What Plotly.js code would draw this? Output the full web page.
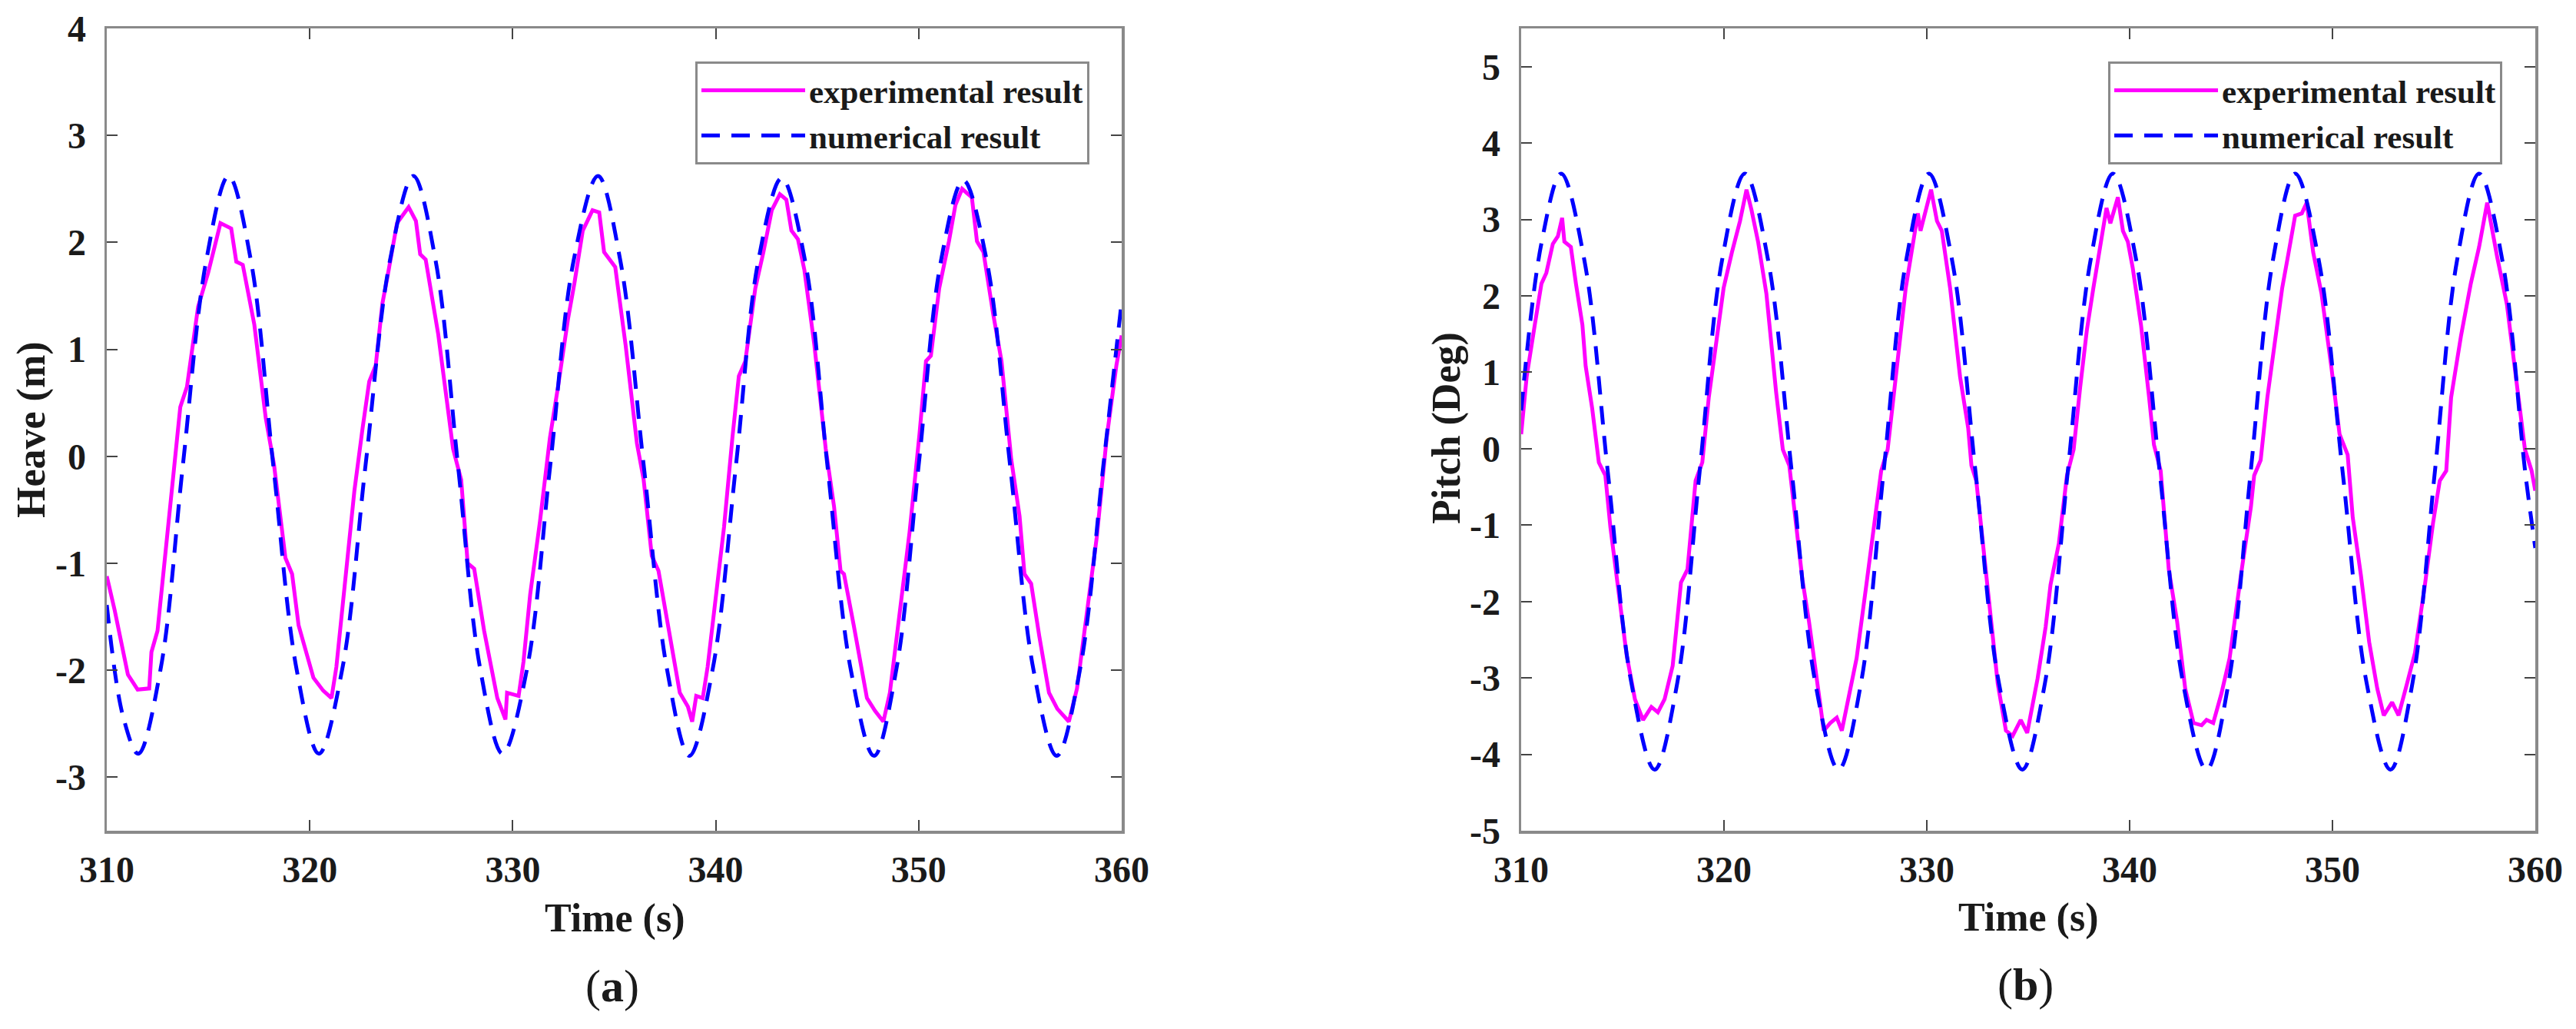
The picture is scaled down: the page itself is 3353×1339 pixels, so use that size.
<!DOCTYPE html>
<html>
<head>
<meta charset="utf-8">
<script src="https://cdn.plot.ly/plotly-3.0.1.min.js"></script>
<style>
  html, body { margin: 0; padding: 0; background: #fff; }
  #chart { width: 3353px; height: 1339px; }
</style>
</head>
<body>
<div id="chart"></div>
<script>
// Heave (m), panel (a)
const heaveExpT = [310.0, 310.39, 311.04, 311.52, 312.09, 312.2, 312.5, 313.14, 313.62, 313.95, 314.5, 315.0, 315.6, 316.13, 316.38, 316.7, 317.27, 317.83, 318.24, 318.8, 319.13, 319.45, 320.18, 320.66, 321.07, 321.31, 321.71, 322.2, 322.6, 322.93, 323.25, 323.58, 323.82, 324.3, 324.87, 325.23, 325.44, 325.71, 326.33, 327.06, 327.46, 327.78, 328.1, 328.59, 329.24, 329.64, 329.72, 330.29, 330.53, 330.86, 331.34, 331.83, 332.23, 332.72, 333.04, 333.45, 333.93, 334.26, 334.5, 335.05, 335.56, 336.12, 336.45, 336.85, 337.18, 337.66, 338.23, 338.63, 338.84, 339.04, 339.36, 339.6, 339.93, 340.41, 340.82, 341.14, 341.46, 341.95, 342.35, 342.76, 343.16, 343.48, 343.73, 344.05, 344.37, 344.86, 345.42, 345.83, 346.15, 346.32, 346.8, 347.45, 347.85, 348.26, 348.58, 349.06, 349.55, 350.04, 350.36, 350.6, 351.01, 351.49, 351.81, 352.14, 352.62, 352.87, 353.19, 353.67, 354.08, 354.56, 354.97, 355.21, 355.54, 355.94, 356.42, 356.83, 357.4, 357.8, 358.29, 358.77, 359.26, 359.74, 360.0];
const heaveExp = [-1.12, -1.44, -2.04, -2.18, -2.17, -1.83, -1.63, -0.39, 0.46, 0.65, 1.40, 1.72, 2.18, 2.13, 1.82, 1.79, 1.23, 0.36, -0.08, -0.95, -1.10, -1.58, -2.07, -2.19, -2.26, -1.97, -1.24, -0.32, 0.26, 0.70, 0.85, 1.43, 1.67, 2.18, 2.33, 2.20, 1.89, 1.84, 1.14, 0.07, -0.22, -1.00, -1.05, -1.63, -2.26, -2.46, -2.21, -2.24, -1.92, -1.29, -0.61, 0.17, 0.65, 1.28, 1.62, 2.11, 2.30, 2.28, 1.91, 1.77, 1.04, 0.12, -0.22, -0.93, -1.07, -1.58, -2.21, -2.34, -2.48, -2.24, -2.26, -1.97, -1.44, -0.66, 0.17, 0.75, 0.89, 1.57, 1.91, 2.30, 2.45, 2.40, 2.11, 2.03, 1.74, 1.04, 0.07, -0.47, -1.07, -1.10, -1.58, -2.26, -2.38, -2.48, -2.21, -1.49, -0.71, 0.21, 0.89, 0.94, 1.57, 2.01, 2.35, 2.50, 2.42, 2.01, 1.91, 1.33, 0.89, -0.03, -0.56, -1.10, -1.19, -1.68, -2.21, -2.36, -2.48, -2.17, -1.44, -0.76, 0.17, 0.85, 1.13];
const heaveNumT = [310.0, 310.8, 311.55, 312.65, 313.75, 314.9, 316.0, 317.1, 318.2, 319.35, 320.45, 321.6, 322.75, 323.95, 325.1, 326.2, 327.3, 328.4, 329.5, 330.7, 331.85, 333.0, 334.2, 335.3, 336.45, 337.6, 338.7, 339.85, 341.0, 342.1, 343.25, 344.4, 345.5, 346.65, 347.8, 348.9, 350.0, 351.1, 352.2, 353.35, 354.5, 355.65, 356.8, 357.95, 359.1, 360.0];
const heaveNum = [-1.39, -2.43, -2.78, -1.99, -0.08, 1.83, 2.62, 1.83, -0.08, -1.99, -2.78, -1.99, -0.08, 1.83, 2.62, 1.83, -0.08, -1.99, -2.78, -1.99, -0.08, 1.83, 2.62, 1.83, -0.08, -1.99, -2.80, -1.99, -0.08, 1.83, 2.60, 1.83, -0.08, -1.99, -2.80, -1.99, -0.08, 1.83, 2.58, 1.83, -0.08, -1.99, -2.80, -1.99, -0.08, 1.45];

// Pitch (Deg), panel (b)
const pitchExpT = [310.0, 310.27, 310.67, 311.0, 311.24, 311.56, 311.81, 312.02, 312.13, 312.45, 312.7, 313.02, 313.18, 313.5, 313.83, 314.15, 314.4, 314.8, 315.2, 315.61, 316.01, 316.42, 316.74, 317.07, 317.47, 317.88, 318.2, 318.6, 318.93, 319.25, 319.66, 319.98, 320.39, 320.79, 321.11, 321.36, 321.68, 322.09, 322.57, 322.9, 323.22, 323.54, 323.87, 324.19, 324.51, 324.92, 325.24, 325.56, 325.81, 326.13, 326.54, 327.02, 327.43, 327.75, 328.07, 328.48, 328.96, 329.29, 329.56, 329.69, 329.93, 330.21, 330.5, 330.74, 331.15, 331.64, 332.04, 332.2, 332.44, 332.77, 333.09, 333.5, 333.9, 334.23, 334.63, 334.95, 335.46, 335.86, 336.1, 336.51, 336.91, 337.24, 337.56, 337.89, 338.21, 338.53, 338.86, 339.05, 339.26, 339.42, 339.67, 339.91, 340.15, 340.56, 340.96, 341.2, 341.53, 341.93, 342.34, 342.74, 343.15, 343.55, 343.79, 344.12, 344.52, 344.93, 345.49, 345.98, 346.14, 346.46, 346.79, 347.19, 347.52, 347.84, 348.16, 348.49, 348.73, 349.05, 349.46, 349.94, 350.35, 350.75, 351.0, 351.4, 351.81, 352.21, 352.53, 352.94, 353.26, 353.67, 354.07, 354.56, 354.96, 355.29, 355.61, 355.85, 356.34, 356.82, 357.23, 357.63, 358.12, 358.6, 359.09, 359.49, 359.82, 360.0];
const pitchExp = [0.19, 0.94, 1.62, 2.16, 2.30, 2.68, 2.78, 3.02, 2.71, 2.64, 2.16, 1.62, 1.08, 0.53, -0.18, -0.35, -1.03, -1.85, -2.70, -3.28, -3.55, -3.38, -3.45, -3.28, -2.84, -1.75, -1.58, -0.42, -0.18, 0.67, 1.48, 2.10, 2.57, 2.98, 3.39, 3.12, 2.71, 2.03, 0.74, -0.01, -0.22, -0.97, -1.72, -2.26, -2.87, -3.69, -3.59, -3.52, -3.69, -3.28, -2.74, -1.78, -0.97, -0.29, -0.01, 0.94, 2.10, 2.64, 3.08, 2.85, 3.12, 3.39, 2.98, 2.85, 2.10, 0.94, 0.27, -0.22, -0.42, -1.24, -2.06, -3.08, -3.69, -3.76, -3.55, -3.72, -3.01, -2.33, -1.78, -1.24, -0.35, -0.01, 0.80, 1.55, 2.10, 2.64, 3.15, 2.95, 3.12, 3.29, 2.85, 2.71, 2.37, 1.62, 0.67, 0.05, -0.29, -1.58, -2.26, -3.14, -3.59, -3.62, -3.55, -3.59, -3.21, -2.74, -1.65, -0.76, -0.35, -0.15, 0.67, 1.48, 2.10, 2.57, 3.05, 3.08, 3.22, 2.57, 2.03, 1.08, 0.19, -0.08, -0.90, -1.65, -2.53, -3.14, -3.49, -3.32, -3.49, -3.08, -2.67, -1.78, -0.97, -0.42, -0.29, 0.67, 1.48, 2.16, 2.64, 3.22, 2.51, 1.89, 0.87, -0.01, -0.29, -0.55];
const pitchNumT = [310.0, 311.0, 311.97, 313.12, 314.27, 315.43, 316.58, 317.7, 318.8, 319.9, 321.03, 322.18, 323.34, 324.5, 325.65, 326.76, 327.87, 328.98, 330.1, 331.25, 332.4, 333.55, 334.71, 335.83, 336.95, 338.07, 339.18, 340.33, 341.48, 342.63, 343.79, 344.88, 345.97, 347.06, 348.16, 349.33, 350.5, 351.68, 352.86, 353.95, 355.05, 356.14, 357.23, 358.38, 359.5, 360.0];
const pitchNum = [0.50, 2.69, 3.60, 2.46, -0.30, -3.06, -4.20, -3.06, -0.30, 2.46, 3.60, 2.46, -0.30, -3.06, -4.20, -3.06, -0.30, 2.46, 3.60, 2.46, -0.30, -3.06, -4.20, -3.06, -0.30, 2.46, 3.60, 2.46, -0.30, -3.06, -4.20, -3.06, -0.30, 2.46, 3.60, 2.46, -0.30, -3.06, -4.20, -3.06, -0.30, 2.46, 3.60, 2.46, -0.30, -1.30];

// ticks
const timeTicks = [310, 320, 330, 340, 350, 360];
const heaveTicks = [-3, -2, -1, 0, 1, 2, 3, 4];
const heaveTickText = ['-3', '-2', '-1', '0', '1', '2', '3', '4'];
const pitchTicks = [-5, -4, -3, -2, -1, 0, 1, 2, 3, 4, 5];
const pitchTickText = ['-5', '-4', '-3', '-2', '-1', '0', '1', '2', '3', '4', '5'];

const seriesNames = ['experimental result', 'numerical result'];

const W = 3353, H = 1339;
const serif = 'Liberation Serif, Times New Roman, serif';
const ink = '#1a1a1a';
const frame = '#8a8a8a';

const expLine = { color: '#ff00ff', width: 5 };
const numLine = { color: '#0000ff', width: 5, dash: '24px,15px', shape: 'spline', smoothing: 1 };

const traces = [
  { x: heaveExpT, y: heaveExp, name: seriesNames[0], type: 'scatter', mode: 'lines', line: expLine, xaxis: 'x', yaxis: 'y', legend: 'legend' },
  { x: heaveNumT, y: heaveNum, name: seriesNames[1], type: 'scatter', mode: 'lines', line: numLine, xaxis: 'x', yaxis: 'y', legend: 'legend' },
  { x: pitchExpT, y: pitchExp, name: seriesNames[0], type: 'scatter', mode: 'lines', line: expLine, xaxis: 'x2', yaxis: 'y2', legend: 'legend2' },
  { x: pitchNumT, y: pitchNum, name: seriesNames[1], type: 'scatter', mode: 'lines', line: numLine, xaxis: 'x2', yaxis: 'y2', legend: 'legend2' }
];

function axisStyle(extra) {
  return Object.assign({
    showline: true, linecolor: frame, linewidth: 3.5, mirror: 'allticks',
    ticks: 'inside', ticklen: 14, tickwidth: 2, tickcolor: '#444',
    showgrid: false, zeroline: false, fixedrange: true,
    tickmode: 'array',
    tickfont: { family: serif, size: 48, color: ink, weight: 'bold' }
  }, extra);
}

const yTop = 1 - 37 / H, yBot = 1 - 1081 / H;

const legendStyle = {
  bgcolor: '#ffffff', bordercolor: frame, borderwidth: 3,
  font: { family: serif, size: 43, color: ink, weight: 'bold' },
  xanchor: 'right', yanchor: 'top', itemwidth: 135, tracegroupgap: 0
};

function note(text, xpx, ypx, size, angle) {
  return {
    text: text, xref: 'paper', yref: 'paper', x: xpx / W, y: 1 - ypx / H,
    xanchor: 'center', yanchor: 'middle', showarrow: false, textangle: angle || 0,
    font: { family: serif, size: size, color: ink, weight: 'bold' }
  };
}

const layout = {
  width: W, height: H,
  margin: { l: 0, r: 0, t: 0, b: 0 },
  paper_bgcolor: '#ffffff', plot_bgcolor: '#ffffff',
  showlegend: true,
  xaxis: axisStyle({ domain: [139 / W, 1460 / W], range: [310, 360], tickvals: timeTicks, ticktext: timeTicks.map(String), anchor: 'y', ticklabelstandoff: 6 }),
  yaxis: axisStyle({ domain: [yBot, yTop], range: [-3.5, 4], tickvals: heaveTicks, ticktext: heaveTickText, anchor: 'x', ticklabelstandoff: 14 }),
  xaxis2: axisStyle({ domain: [1980 / W, 3300 / W], range: [310, 360], tickvals: timeTicks, ticktext: timeTicks.map(String), anchor: 'y2', ticklabelstandoff: 6 }),
  yaxis2: axisStyle({ domain: [yBot, yTop], range: [-5, 5.5], tickvals: pitchTicks, ticktext: pitchTickText, anchor: 'x2', ticklabelstandoff: 14 }),
  legend: Object.assign({ x: 1418 / W, y: 1 - 80 / H }, legendStyle),
  legend2: Object.assign({ x: 3257 / W, y: 1 - 80 / H }, legendStyle),
  annotations: [
    note('Heave (m)', 41, 559, 52, -90),
    note('Time (s)', 800, 1195, 52),
    note('<span style="font-weight:normal">(</span>a<span style="font-weight:normal">)</span>', 797, 1283, 60),
    note('Pitch (Deg)', 1883, 557, 52, -90),
    note('Time (s)', 2640, 1194, 52),
    note('<span style="font-weight:normal">(</span>b<span style="font-weight:normal">)</span>', 2636, 1281, 60)
  ]
};

Plotly.newPlot('chart', traces, layout, { staticPlot: true, displayModeBar: false });
</script>
</body>
</html>
